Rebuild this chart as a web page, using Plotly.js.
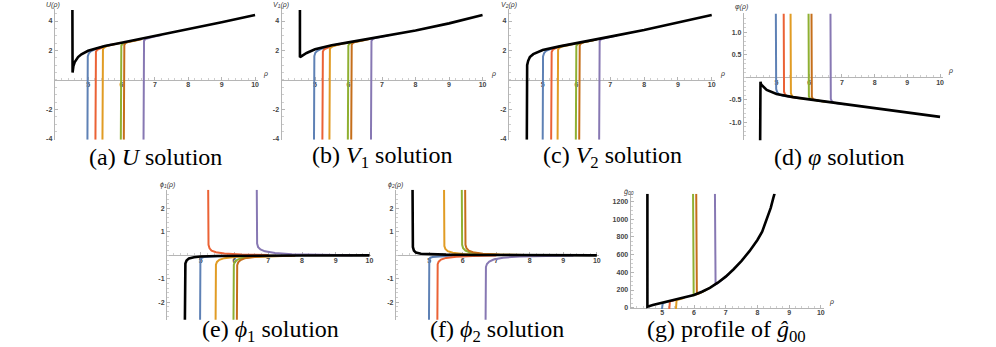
<!DOCTYPE html>
<html>
<head>
<meta charset="utf-8">
<script src="https://cdn.plot.ly/plotly-3.0.1.min.js"></script>
<style>
  html, body { margin: 0; padding: 0; background: #fff; }
  #chart { width: 996px; height: 347px; }
</style>
</head>
<body>
<div id="chart"></div>
<script>
// curves as [rho, value] pairs

// (a) U
const uBlack = [[4.53,4.75],[4.53,1.2],[4.532,0.6],[4.535,0.5],[4.56,0.95],[4.6,1.22],[4.7,1.55],[4.8,1.74],[5.0,1.98],[5.2,2.13],[5.5,2.31],[6,2.53],[7,2.98],[8,3.44],[9,3.92],[10,4.41]];
const uBlue = [[4.98,-4.05],[4.98,1.3],[4.99,1.6],[5.02,1.8],[5.08,1.95],[5.2,2.08],[5.4,2.24],[5.7,2.4]];
const uRed = [[5.22,-4.05],[5.22,1.7],[5.235,1.92],[5.27,2.04],[5.35,2.14],[5.5,2.28],[5.8,2.44]];
const uOrange = [[5.43,-4.05],[5.43,1.85],[5.445,2.08],[5.48,2.2],[5.56,2.3],[5.7,2.38],[6.0,2.52]];
const uGreen = [[5.98,-4.05],[5.98,2.1],[5.995,2.33],[6.03,2.45],[6.1,2.53],[6.25,2.6],[6.5,2.72]];
const uBrown = [[6.07,-4.05],[6.07,2.15],[6.085,2.38],[6.12,2.5],[6.2,2.58],[6.35,2.65],[6.6,2.76]];
const uPurple = [[6.66,-4.05],[6.66,2.4],[6.675,2.65],[6.71,2.77],[6.8,2.85],[6.95,2.93],[7.2,3.05]];

// (b) V1
const v1Black = [[4.55,4.75],[4.55,1.54],[4.6,1.62],[4.75,1.83],[5.0,2.08],[5.2,2.2],[5.5,2.36],[6,2.55],[7,2.94],[8,3.36],[9,3.84],[10,4.41]];
const v1Blue = [[4.97,-4.05],[4.97,1.3],[4.98,1.62],[5.01,1.85],[5.07,1.98],[5.2,2.12],[5.45,2.3],[5.7,2.42]];
const v1Red = [[5.22,-4.05],[5.22,1.7],[5.235,1.93],[5.27,2.07],[5.35,2.17],[5.5,2.3],[5.8,2.46]];
const v1Orange = [[5.43,-4.05],[5.43,1.85],[5.445,2.1],[5.48,2.22],[5.56,2.31],[5.7,2.4],[6.0,2.54]];
const v1Green = [[5.98,-4.05],[5.98,2.1],[5.995,2.34],[6.03,2.46],[6.1,2.54],[6.25,2.61],[6.5,2.73]];
const v1Brown = [[6.08,-4.05],[6.08,2.15],[6.095,2.39],[6.13,2.51],[6.2,2.58],[6.35,2.65],[6.6,2.76]];
const v1Purple = [[6.67,-4.05],[6.67,2.4],[6.685,2.64],[6.72,2.77],[6.8,2.85],[6.95,2.91],[7.2,3.03]];

// (c) V2
const v2Black = [[4.53,-4.05],[4.53,0.6],[4.54,1.0],[4.57,1.3],[4.62,1.55],[4.72,1.75],[5.0,2.03],[5.5,2.28],[6,2.49],[7,2.94],[8,3.39],[9,3.89],[10,4.41]];
const v2Blue = [[5.0,-4.05],[5.0,1.3],[5.01,1.6],[5.04,1.82],[5.1,1.97],[5.25,2.12],[5.5,2.28]];
const v2Red = [[5.25,-4.05],[5.25,1.65],[5.265,1.9],[5.3,2.05],[5.38,2.16],[5.55,2.3],[5.8,2.4]];
const v2Orange = [[5.44,-4.05],[5.44,1.8],[5.455,2.05],[5.49,2.18],[5.57,2.27],[5.75,2.36],[6.0,2.49]];
const v2Green = [[5.98,-4.05],[5.98,2.05],[5.995,2.3],[6.03,2.42],[6.1,2.5],[6.25,2.57],[6.5,2.7]];
const v2Brown = [[6.08,-4.05],[6.08,2.1],[6.095,2.35],[6.13,2.47],[6.2,2.55],[6.35,2.62],[6.6,2.74]];
const v2Purple = [[6.67,-4.05],[6.67,2.35],[6.685,2.62],[6.72,2.75],[6.8,2.82],[6.95,2.89],[7.2,3.02]];

// (d) varphi
const phBlack = [[4.5,-1.42],[4.5,-0.3],[4.505,-0.15],[4.51,-0.1],[4.53,-0.16],[4.6,-0.22],[4.7,-0.28],[5.0,-0.37],[5.5,-0.44],[6,-0.49],[7,-0.59],[8,-0.69],[9,-0.79],[10,-0.88]];
const phBlue = [[4.98,1.42],[4.98,-0.15],[4.99,-0.26],[5.02,-0.33],[5.08,-0.38],[5.2,-0.41],[5.4,-0.43]];
const phRed = [[5.22,1.42],[5.22,-0.22],[5.23,-0.32],[5.26,-0.38],[5.32,-0.42],[5.45,-0.44],[5.7,-0.46]];
const phOrange = [[5.43,1.42],[5.43,-0.25],[5.44,-0.35],[5.47,-0.41],[5.53,-0.44],[5.65,-0.46],[5.9,-0.48]];
const phGreen = [[5.98,1.42],[5.98,-0.32],[5.99,-0.42],[6.02,-0.47],[6.08,-0.5],[6.2,-0.51],[6.45,-0.54]];
const phBrown = [[6.07,1.42],[6.07,-0.33],[6.08,-0.43],[6.11,-0.48],[6.17,-0.5],[6.3,-0.52],[6.55,-0.55]];
const phPurple = [[6.65,1.42],[6.65,-0.38],[6.66,-0.48],[6.69,-0.53],[6.75,-0.56],[6.88,-0.58],[7.1,-0.6]];

// (e) phi1
const p1Black = [[4.53,-2.8],[4.53,-0.6],[4.545,-0.35],[4.58,-0.22],[4.65,-0.13],[4.8,-0.08],[5.0,-0.05],[5.5,-0.03],[6.5,-0.015],[8,-0.005],[10,0]];
const p1Blue = [[4.98,-2.8],[4.98,-0.3],[4.99,-0.15],[5.02,-0.1],[5.1,-0.07],[5.3,-0.05],[5.7,-0.03]];
const p1Red = [[5.22,2.8],[5.22,0.7],[5.23,0.45],[5.26,0.3],[5.32,0.2],[5.45,0.13],[5.7,0.08],[6.2,0.04],[7,0.015]];
const p1Orange = [[5.44,-2.8],[5.44,-0.6],[5.45,-0.4],[5.48,-0.28],[5.55,-0.19],[5.7,-0.12],[6.0,-0.07],[6.5,-0.035],[7.2,-0.015]];
const p1Green = [[5.97,-2.8],[5.97,-0.6],[5.98,-0.4],[6.01,-0.28],[6.08,-0.19],[6.2,-0.12],[6.5,-0.07],[7,-0.035],[7.7,-0.015]];
const p1Brown = [[6.07,-2.8],[6.07,-0.62],[6.08,-0.42],[6.11,-0.3],[6.18,-0.2],[6.3,-0.13],[6.6,-0.07],[7.1,-0.035],[7.8,-0.015]];
const p1Purple = [[6.66,2.8],[6.66,0.75],[6.67,0.5],[6.7,0.35],[6.77,0.25],[6.9,0.17],[7.2,0.1],[7.7,0.05],[8.5,0.02],[9.5,0.008]];

// (f) phi2
const p2Black = [[4.5,2.8],[4.5,0.6],[4.51,0.35],[4.54,0.2],[4.6,0.12],[4.75,0.07],[5,0.05],[5.5,0.03],[6.5,0.015],[8,0.005],[10,0]];
const p2Blue = [[4.99,-2.8],[4.99,-0.3],[5.0,-0.15],[5.03,-0.1],[5.1,-0.07],[5.3,-0.05],[5.7,-0.03]];
const p2Red = [[5.24,-2.8],[5.24,-0.55],[5.25,-0.38],[5.28,-0.27],[5.35,-0.18],[5.5,-0.11],[5.8,-0.06],[6.3,-0.03],[7,-0.012]];
const p2Orange = [[5.44,2.8],[5.44,0.6],[5.45,0.4],[5.48,0.27],[5.55,0.18],[5.7,0.11],[6.0,0.06],[6.5,0.03],[7.3,0.01]];
const p2Green = [[5.97,2.8],[5.97,0.65],[5.98,0.45],[6.01,0.3],[6.08,0.2],[6.2,0.13],[6.5,0.07],[7,0.035],[7.8,0.012]];
const p2Brown = [[6.07,2.8],[6.07,0.65],[6.08,0.45],[6.11,0.3],[6.18,0.2],[6.3,0.13],[6.6,0.07],[7.1,0.035],[7.9,0.012]];
const p2Purple = [[6.68,-2.8],[6.68,-0.7],[6.69,-0.5],[6.72,-0.37],[6.79,-0.27],[6.92,-0.18],[7.2,-0.1],[7.7,-0.05],[8.4,-0.02],[9.3,-0.008]];

// (g) g00
const gBlack = [[4.53,1290],[4.53,11],[4.7,30],[5,57],[5.5,95],[6,144],[6.25,180],[6.5,225],[6.75,283],[7,351],[7.25,435],[7.5,530],[7.75,640],[8,766],[8.15,860],[8.3,1000],[8.42,1130],[8.5,1240],[8.54,1290]];
const gBlue = [[4.99,-15],[4.99,20],[5.01,42],[5.05,55],[5.15,64],[5.35,80]];
const gRed = [[5.22,-15],[5.22,55],[5.24,70],[5.3,77],[5.45,90]];
const gOrange = [[5.43,-15],[5.43,72],[5.45,85],[5.52,93],[5.7,112]];
const gGreen = [[5.97,1290],[5.97,150],[5.99,143],[6.05,150],[6.2,168],[6.4,205]];
const gBrown = [[6.07,1290],[6.07,160],[6.09,153],[6.15,160],[6.3,185],[6.5,225]];
const gPurple = [[6.66,1290],[6.66,275],[6.68,266],[6.74,275],[6.9,320],[7.1,380]];

// tick labels
const xTicks = [5, 6, 7, 8, 9, 10];
const uTicks = [-4, -2, 2, 4];
const uTickText = ['-4', '-2', '2', '4'];
const phTicks = [-1, -0.5, 0.5, 1];
const phTickText = ['-1.0', '-0.5', '0.5', '1.0'];
const pTicks = [-2, -1, 1, 2];
const pTickText = ['-2', '-1', '1', '2'];
const gTicks = [0, 200, 400, 600, 800, 1000, 1200];

const colBlue = '#5E81B5', colOrange = '#E19C24', colGreen = '#8FB032',
      colRed = '#EB6235', colPurple = '#8778B3', colBrown = '#C56E1A';

const W = 996, H = 347;

// pixel boxes of each panel
const panels = [
  {id: '', px: [54.7, 258.4], py: [9.2, 139.7], xr: [4, 10.1], yr: [-4.05, 4.8], yt: uTicks, ytt: uTickText, ym: 0.5,
   curves: [uBlue, uRed, uOrange, uGreen, uBrown, uPurple, uBlack], ylab: 'U(ρ)', ylx: 53, yly: 5, rho: true},
  {id: '2', px: [281.5, 485.9], py: [9.2, 139.7], xr: [4, 10.1], yr: [-4.05, 4.8], yt: uTicks, ytt: uTickText, ym: 0.5,
   curves: [v1Blue, v1Red, v1Orange, v1Green, v1Brown, v1Purple, v1Black], ylab: 'V<sub>1</sub>(ρ)', ylx: 281, yly: 5, rho: true},
  {id: '3', px: [508.9, 715.1], py: [9.2, 139.7], xr: [4, 10.1], yr: [-4.05, 4.8], yt: uTicks, ytt: uTickText, ym: 0.5,
   curves: [v2Blue, v2Red, v2Orange, v2Green, v2Brown, v2Purple, v2Black], ylab: 'V<sub>2</sub>(ρ)', ylx: 509, yly: 5, rho: true},
  {id: '4', px: [743.8, 943.3], py: [13.4, 140.3], xr: [4, 10.1], yr: [-1.4, 1.42], yt: phTicks, ytt: phTickText, ym: 0.1,
   curves: [phBlue, phRed, phOrange, phGreen, phBrown, phPurple, phBlack], ylab: 'φ(ρ)', ylx: 741, yly: 7, rho: true},
  {id: '5', px: [167, 371.2], py: [189.8, 319.7], xr: [4, 10.05], yr: [-2.75, 2.8], yt: pTicks, ytt: pTickText, ym: 0.2,
   curves: [p1Blue, p1Red, p1Orange, p1Green, p1Brown, p1Purple, p1Black], ylab: 'ϕ<sub>1</sub>(ρ)', ylx: 167, yly: 185, rho: false},
  {id: '6', px: [395.8, 598.5], py: [189.8, 319.7], xr: [4, 10.05], yr: [-2.75, 2.8], yt: pTicks, ytt: pTickText, ym: 0.2,
   curves: [p2Blue, p2Red, p2Orange, p2Green, p2Brown, p2Purple, p2Black], ylab: 'ϕ<sub>2</sub>(ρ)', ylx: 395, yly: 185, rho: false},
  {id: '7', px: [630.6, 824], py: [193.7, 309], xr: [4, 10.1], yr: [-15, 1290], yt: gTicks, ytt: gTicks.map(String), ym: 50,
   curves: [gBlue, gRed, gOrange, gGreen, gBrown, gPurple, gBlack], ylab: 'ĝ<sub>00</sub>', ylx: 629, yly: 192, rho: true},
];

const colours = [colBlue, colRed, colOrange, colGreen, colBrown, colPurple, '#000'];

const tickFont = {family: 'Liberation Sans', size: 7, color: '#444', weight: 'bold'};
const labelFont = {family: 'Liberation Sans', size: 7, color: '#333'};

const traces = [];
const layout = {
  width: W, height: H,
  margin: {l: 0, r: 0, t: 0, b: 0},
  paper_bgcolor: '#fff', plot_bgcolor: 'rgba(0,0,0,0)',
  showlegend: false,
  annotations: [],
};

panels.forEach((p) => {
  p.curves.forEach((c, i) => {
    traces.push({
      x: c.map((d) => d[0]),
      y: c.map((d) => d[1]),
      xaxis: 'x' + p.id, yaxis: 'y' + p.id,
      mode: 'lines', hoverinfo: 'skip',
      line: {color: colours[i], width: i === 6 ? 2.6 : 2},
    });
  });

  const yd = [1 - p.py[1] / H, 1 - p.py[0] / H];
  const zeroPos = yd[0] + (0 - p.yr[0]) / (p.yr[1] - p.yr[0]) * (yd[1] - yd[0]);

  layout['xaxis' + p.id] = {
    domain: [p.px[0] / W, p.px[1] / W],
    range: p.xr,
    anchor: 'free', position: zeroPos,
    showgrid: false, zeroline: false, layer: 'below traces',
    showline: true, linecolor: '#b5b5b5', linewidth: 1,
    tickmode: 'array', tickvals: xTicks,
    ticks: 'inside', ticklen: 3, tickcolor: '#b5b5b5',
    ticklabelstandoff: -2,
    minor: {tickmode: 'linear', tick0: 4, dtick: 0.2, ticks: 'inside', ticklen: 2, tickcolor: '#cfcfcf'},
    tickfont: tickFont,
    fixedrange: true,
  };
  layout['yaxis' + p.id] = {
    domain: yd,
    range: p.yr,
    anchor: 'x' + p.id,
    showgrid: false, zeroline: false, layer: 'below traces',
    showline: true, linecolor: '#b5b5b5', linewidth: 1,
    tickmode: 'array', tickvals: p.yt, ticktext: p.ytt,
    ticks: 'inside', ticklen: 3, tickcolor: '#b5b5b5',
    minor: {tickmode: 'linear', tick0: 0, dtick: p.ym, ticks: 'inside', ticklen: 2, tickcolor: '#cfcfcf'},
    tickfont: tickFont,
    fixedrange: true,
  };

  layout.annotations.push({
    xref: 'paper', yref: 'paper', x: p.ylx / W, y: 1 - p.yly / H,
    xanchor: 'center', yanchor: 'middle', showarrow: false,
    text: '<i>' + p.ylab + '</i>', font: labelFont,
  });
  if (p.rho) {
    layout.annotations.push({
      xref: 'x' + p.id, yref: 'paper', x: p.xr[1], y: zeroPos,
      xanchor: 'left', yanchor: 'bottom', xshift: 3, showarrow: false,
      text: '<i>ρ</i>', font: labelFont,
    });
  }
});

// sub-figure captions
const captions = [
  ['(a) <i>U</i> solution', 155, 157],
  ['(b) <i>V</i><sub>1</sub> solution', 382, 157],
  ['(c) <i>V</i><sub>2</sub> solution', 612, 157],
  ['(d) <i>φ</i> solution', 839, 157],
  ['(e) <i>ϕ</i><sub>1</sub> solution', 270, 331],
  ['(f) <i>ϕ</i><sub>2</sub> solution', 497, 331],
  ['(g) profile of <i>ĝ</i><sub>00</sub>', 726, 331],
];
captions.forEach(([text, x, y]) => {
  layout.annotations.push({
    xref: 'paper', yref: 'paper', x: x / W, y: 1 - y / H,
    xanchor: 'center', yanchor: 'middle', showarrow: false,
    text: text,
    font: {family: 'Liberation Serif', size: 24, color: '#000'},
  });
});

Plotly.newPlot('chart', traces, layout, {staticPlot: true, displayModeBar: false});
</script>
</body>
</html>
